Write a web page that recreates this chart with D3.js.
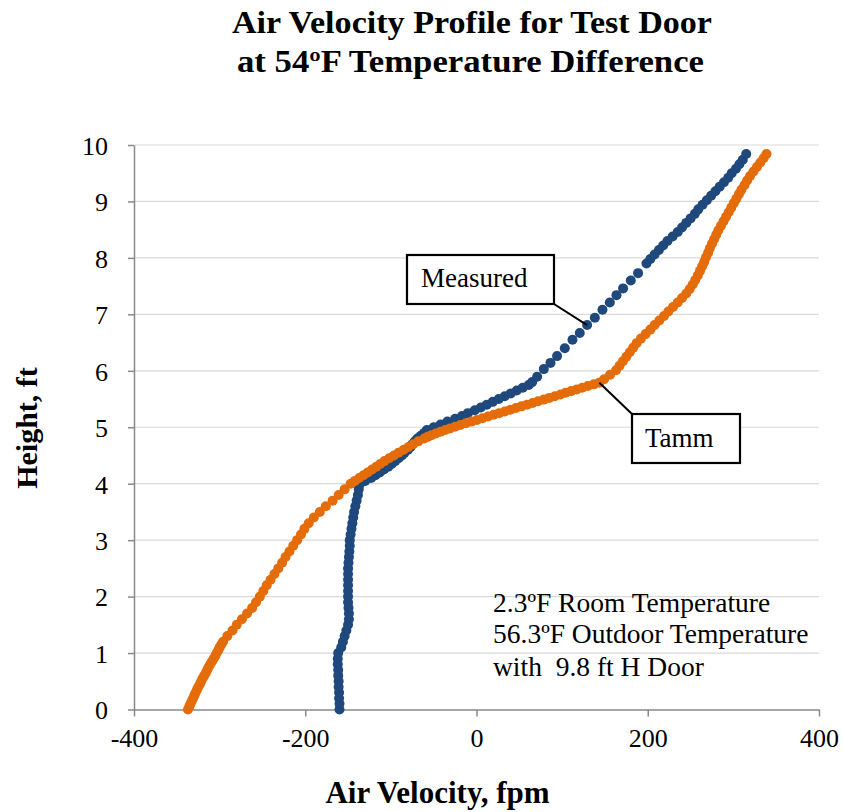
<!DOCTYPE html>
<html>
<head>
<meta charset="utf-8">
<script src="https://cdn.jsdelivr.net/npm/d3@7"></script>
<style>
  html, body { margin: 0; padding: 0; background: #fff; }
  svg { display: block; }
</style>
</head>
<body>
<svg id="chart" width="843" height="812"></svg>
<script>
// ---------- DATA ----------
const titleLines = ["Air Velocity Profile for Test Door", "at 54\u00BAF Temperature Difference"];
const xAxisTitle = "Air Velocity, fpm";
const yAxisTitle = "Height, ft";
const xTicks = [-400, -200, 0, 200, 400];
const yTicks = [0, 1, 2, 3, 4, 5, 6, 7, 8, 9, 10];
const noteLines = ["2.3\u00BAF Room Temperature", "56.3\u00BAF Outdoor Temperature", "with  9.8 ft H Door"];
const seriesNames = ["Measured", "Tamm"];

// Measured: [velocity fpm, height ft]
const measured = [
  [-160,0.0],[-160,0.1],[-160.5,0.2],[-160.5,0.3],[-161,0.4],[-161,0.5],[-161.5,0.6],[-161.5,0.7],[-162,0.8],[-162,0.9],[-161.5,1.0],
  [-158,1.1],[-156,1.2],[-154,1.3],[-152,1.4],[-150,1.5],[-149,1.6],
  [-149,1.7],[-149.5,1.8],[-150,1.9],[-150,2.0],[-150,2.1],[-150,2.2],[-150,2.3],[-150,2.4],[-150,2.5],[-149.5,2.6],[-149,2.7],
  [-148.5,2.8],[-148,2.9],[-148,3.0],[-147,3.1],[-146,3.2],[-145,3.3],[-144,3.4],
  [-143,3.5],[-141.5,3.6],[-140,3.7],[-138.5,3.8],[-137.5,3.9],[-136,4.0],
  [-130,4.05],[-123,4.1],[-118,4.15],[-113,4.2],[-108,4.25],[-103,4.3],[-99,4.35],[-95,4.4],[-91,4.45],[-87,4.5],[-84,4.55],
  [-80,4.6],[-77,4.65],[-75,4.7],[-72,4.75],[-69,4.8],[-65,4.85],[-61,4.9],[-58,4.95],
  [-50,5.0],[-42,5.05],[-34,5.1],[-25,5.15],[-17,5.2],[-10,5.25],[-2,5.3],[5,5.35],[12,5.4],[19,5.45],[26,5.5],
  [33,5.55],[40,5.6],[47,5.65],[54,5.7],[61,5.75],[65,5.8],
  [70.8,5.895],[78.6,6.03],[86.4,6.14],[94.1,6.26],[103.1,6.40],[112.1,6.55],[120.6,6.67],[129.2,6.81],[138.2,6.94],
  [147.1,7.08],[155.7,7.21],[163.5,7.34],[171.2,7.46],[180.2,7.60],[188.7,7.73],
  [198.5,7.90],[203,7.98],[208,8.06],[213,8.14],[218,8.22],[223,8.30],[229,8.38],[235,8.46],[240,8.54],[245,8.62],
  [250,8.70],[255,8.78],[259,8.86],[264,8.94],[269,9.02],[274,9.10],[279,9.18],[284,9.26],[289,9.34],[294,9.42],
  [298,9.50],[303,9.58],[307,9.66],[311,9.74],[315,9.84]
];

// Tamm: [velocity fpm, height ft]
const tamm = [
  [-337,0.0],[-335.5,0.05],[-334,0.1],[-332.5,0.15],[-331,0.2],[-329.5,0.25],[-328,0.3],[-326.5,0.35],[-325,0.4],[-323,0.45],
  [-321.5,0.5],[-320,0.55],[-318,0.6],[-316,0.65],[-314.5,0.7],[-313,0.75],[-311,0.8],[-309,0.85],[-307,0.9],[-305,0.95],
  [-303.5,1.0],[-301.5,1.05],[-300,1.1],[-298,1.15],[-296,1.2],[-291,1.3],[-285,1.4],[-280,1.5],[-274,1.6],[-268,1.7],[-262,1.8],[-257.5,1.9],
  [-253,2.0],[-249,2.1],[-245,2.2],[-240.5,2.3],[-236,2.4],[-231.5,2.5],[-227,2.6],[-223,2.7],[-218.5,2.8],[-214,2.9],
  [-209.5,3.0],[-205,3.1],[-201,3.2],[-196,3.3],[-190,3.4],[-183,3.5],[-176,3.6],[-168,3.7],[-161,3.8],[-154,3.9],[-147,4.0],
  [-142,4.05],[-137,4.1],[-132,4.15],[-127,4.2],[-122,4.25],[-117,4.3],[-112.5,4.35],[-107.5,4.4],[-102,4.45],[-96.5,4.5],
  [-91,4.55],[-85,4.6],[-79.5,4.65],[-74,4.7],[-68,4.75],[-61,4.8],
  [-57,4.83],[-52.5,4.86],[-47.5,4.89],[-42,4.92],[-36.5,4.95],[-31,4.98],[-25,5.01],[-19,5.04],[-12.5,5.07],[-6,5.10],
  [0.5,5.13],[7,5.16],[13.5,5.19],[20,5.22],[26.5,5.25],[33,5.28],[39.5,5.31],[46,5.34],[52.5,5.37],[59,5.40],
  [65.5,5.43],[72,5.46],[78.5,5.49],[85,5.52],[91.5,5.55],[98,5.58],[104,5.61],[110.5,5.64],[117,5.67],[123.5,5.70],
  [130,5.73],[137,5.76],[143.5,5.79],
  [149,5.85],[156,5.93],[163,6.01],[167,6.09],[171,6.17],[175,6.25],[179,6.33],[183,6.41],[187,6.49],[192,6.57],
  [197.5,6.65],[203,6.73],[208,6.81],[213.5,6.89],[219,6.97],[224,7.05],[229.5,7.13],[235,7.21],[240,7.29],[245,7.37],
  [249,7.45],[252.5,7.53],[255.5,7.61],[258.5,7.69],[261,7.77],[263.5,7.85],[266,7.93],[268,8.01],[270.5,8.09],[272.5,8.17],
  [275,8.25],[277.5,8.33],[280,8.41],[282.5,8.49],[285.5,8.57],[288.5,8.65],[291.5,8.73],[294.5,8.81],[297.5,8.89],[300.5,8.97],
  [303.5,9.05],[306.5,9.13],[309.5,9.21],[313,9.29],[316,9.37],[319.5,9.45],[323.5,9.53],[327.5,9.61],[331.5,9.69],[335.5,9.77],[338.7,9.84]
];

// points the callout leaders point to
const measuredCalloutIndex = measured.findIndex(d => d[0] === 129.2);
const tammCalloutIndex = tamm.findIndex(d => d[0] === 143.5);

// ---------- LAYOUT ----------
const FONT = "'Liberation Serif', 'Times New Roman', Times, serif";
const plot = { left: 134, right: 819, top: 145, bottom: 709.5 };
const colors = { measured: "#1F497D", tamm: "#E46C0A", grid: "#D9D9D9", axis: "#898989" };

const svg = d3.select("#chart");
const x = d3.scaleLinear().domain([-400, 400]).range([plot.left, plot.right]);
const y = d3.scaleLinear().domain([0, 10]).range([plot.bottom, plot.top]);

// gridlines
svg.append("g").selectAll("line")
  .data(yTicks.filter(t => t > 0))
  .join("line")
  .attr("x1", plot.left).attr("x2", plot.right)
  .attr("y1", d => y(d)).attr("y2", d => y(d))
  .attr("stroke", colors.grid).attr("stroke-width", 1.2);

// axes
const yAxis = svg.append("g")
  .attr("transform", `translate(${plot.left},0)`)
  .call(d3.axisLeft(y).tickValues(yTicks).tickFormat(d3.format("d")).tickSizeInner(6).tickSizeOuter(0).tickPadding(20));
const xAxis = svg.append("g")
  .attr("transform", `translate(0,${plot.bottom})`)
  .call(d3.axisBottom(x).tickValues(xTicks).tickFormat(d => d < 0 ? "-" + Math.abs(d) : d).tickSizeInner(7).tickSizeOuter(0).tickPadding(12));

[xAxis, yAxis].forEach(a => {
  a.select(".domain").attr("stroke", colors.axis).attr("stroke-width", 1.5);
  a.selectAll(".tick line").attr("stroke", colors.axis).attr("stroke-width", 1.5);
  a.selectAll(".tick text").attr("fill", "#000").style("font-family", FONT).style("font-size", "26px");
});
yAxis.selectAll(".tick text").attr("dy", "0.36em");
xAxis.selectAll(".tick text").attr("dy", "0.72em");

// series (Measured first, Tamm drawn on top)
svg.append("g").selectAll("circle").data(measured).join("circle")
  .attr("cx", d => x(d[0])).attr("cy", d => y(d[1])).attr("r", 5)
  .attr("fill", colors.measured);
svg.append("g").selectAll("circle").data(tamm).join("circle")
  .attr("cx", d => x(d[0])).attr("cy", d => y(d[1])).attr("r", 5)
  .attr("fill", colors.tamm);

// callouts
function callout(label, box, anchor, corner, textX, textY) {
  const g = svg.append("g");
  g.append("line")
    .attr("x1", corner[0]).attr("y1", corner[1])
    .attr("x2", x(anchor[0])).attr("y2", y(anchor[1]))
    .attr("stroke", "#000").attr("stroke-width", 2);
  g.append("rect")
    .attr("x", box.x).attr("y", box.y).attr("width", box.w).attr("height", box.h)
    .attr("fill", "#fff").attr("stroke", "#000").attr("stroke-width", 2.2);
  g.append("text").attr("x", textX).attr("y", textY)
    .style("font-family", FONT).style("font-size", "27px").text(label);
}
const mBox = { x: 407, y: 255, w: 147, h: 49 };
callout(seriesNames[0], mBox, measured[measuredCalloutIndex], [mBox.x + mBox.w, mBox.y + mBox.h], 421, 287);
const tBox = { x: 632, y: 414, w: 108, h: 49 };
callout(seriesNames[1], tBox, tamm[tammCalloutIndex], [tBox.x, tBox.y], 645, 446.5);

// note text
const note = svg.append("text")
  .attr("xml:space", "preserve")
  .style("white-space", "pre")
  .style("font-family", FONT).style("font-size", "27.5px");
note.selectAll("tspan").data(noteLines).join("tspan")
  .attr("x", 493)
  .attr("y", (d, i) => [611.5, 643, 675.5][i])
  .text(d => d);

// title
svg.append("g").selectAll("text").data(titleLines).join("text")
  .attr("x", (d, i) => [472, 470.5][i])
  .attr("y", (d, i) => [33, 72][i])
  .attr("text-anchor", "middle")
  .attr("textLength", (d, i) => [480, 467][i])
  .attr("lengthAdjust", "spacingAndGlyphs")
  .style("font-family", FONT).style("font-size", "31px").style("font-weight", "bold")
  .text(d => d);

// axis titles
svg.append("text")
  .attr("x", 437.5).attr("y", 803)
  .attr("text-anchor", "middle")
  .style("font-family", FONT).style("font-size", "31px").style("font-weight", "bold")
  .text(xAxisTitle);
svg.append("text")
  .attr("transform", "translate(37,428) rotate(-90)")
  .attr("text-anchor", "middle")
  .style("font-family", FONT).style("font-size", "30px").style("font-weight", "bold")
  .text(yAxisTitle);
</script>
</body>
</html>
